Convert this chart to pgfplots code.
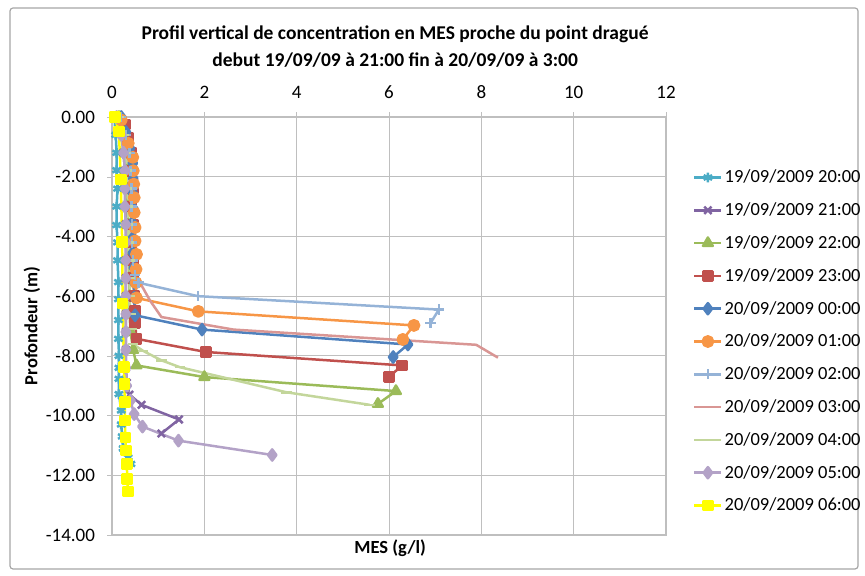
\documentclass[border=0pt]{standalone}
\usepackage{fontspec}
\setmainfont{Carlito}
\usepackage{pgfplots}
\pgfplotsset{compat=1.18}

\definecolor{sA}{HTML}{4BACC6}
\definecolor{sB}{HTML}{8064A2}
\definecolor{sC}{HTML}{9BBB59}
\definecolor{sD}{HTML}{C0504D}
\definecolor{sE}{HTML}{4F81BD}
\definecolor{sF}{HTML}{F79646}
\definecolor{sG}{HTML}{95B3D7}
\definecolor{sH}{HTML}{D99694}
\definecolor{sI}{HTML}{C3D69B}
\definecolor{sJ}{HTML}{B3A2C7}
\definecolor{sK}{HTML}{FFFF00}
\definecolor{gridc}{HTML}{BFBFBF}

\begin{document}
\begin{tikzpicture}
\begin{axis}[
    scale only axis,
    width=277pt, height=209pt,
    xmin=0, xmax=12, ymin=-14, ymax=0,
    xtick={0,2,...,12}, ytick={-14,-12,...,0},
    xticklabel pos=upper, xtick pos=upper, ytick pos=left,
    tick align=outside, major tick length=2.5pt,
    tick style={gridc},
    grid=major, major grid style={gridc, line width=0.5pt},
    axis line style={gridc, line width=0.6pt},
    ticklabel style={font=\fontsize{9.5}{11}\selectfont},
    yticklabel style={/pgf/number format/.cd, fixed, fixed zerofill, precision=2, assume math mode=true, /tikz/xshift=-2.5pt},
    xticklabel style={/pgf/number format/assume math mode=true, yshift=3pt},
    clip=false,
    every axis plot/.append style={line width=1.25pt, line join=round},
    legend cell align=left,
    legend style={draw=none, fill=none, at={(rel axis cs:1.049,0.878)}, anchor=north west,
        inner sep=0pt, outer sep=0pt, row sep=6.9pt,
        font=\fontsize{9.25}{11}\selectfont,
        nodes={inner sep=1pt, text height=6.5pt, text depth=1pt}},
    legend image code/.code={\draw[mark repeat=2, mark phase=2] plot coordinates {(0pt,0pt) (6.75pt,0pt) (13.5pt,0pt)};},
]

% 19/09/2009 20:00
\addplot[sA, mark=asterisk, mark size=2.4pt] table {
0.05 0
0.08 -0.6
0.10 -1.2
0.10 -1.78
0.12 -2.4
0.10 -3.0
0.10 -3.62
0.12 -4.2
0.12 -4.8
0.14 -5.53
0.14 -6.1
0.14 -6.8
0.14 -7.43
0.15 -8.0
0.15 -8.4
0.15 -8.77
0.15 -9.28
0.20 -9.83
0.20 -10.3
0.22 -10.7
0.24 -11.1
0.35 -11.4
0.41 -11.62
};
\addlegendentry{19/09/2009 20:00}

% 19/09/2009 21:00
\addplot[sB, mark=x, mark size=2.6pt] table {
0.10 0
0.20 -0.5
0.25 -1.2
0.28 -1.8
0.30 -2.4
0.30 -3.0
0.30 -3.6
0.30 -4.2
0.30 -4.8
0.30 -5.4
0.30 -6.0
0.30 -6.6
0.30 -7.2
0.30 -7.8
0.30 -8.4
0.32 -8.9
0.38 -9.3
0.64 -9.64
1.45 -10.13
1.07 -10.6
};
\addlegendentry{19/09/2009 21:00}

% 19/09/2009 22:00
\addplot[sC, mark=triangle*, mark size=2.8pt] table {
0.15 0
0.25 -0.6
0.30 -1.2
0.32 -1.8
0.33 -2.4
0.34 -3.0
0.35 -3.6
0.36 -4.2
0.36 -4.8
0.37 -5.4
0.38 -6.0
0.38 -6.6
0.40 -7.2
0.46 -7.8
0.53 -8.32
2.00 -8.71
6.15 -9.18
5.76 -9.61
};
\addlegendentry{19/09/2009 22:00}

% 19/09/2009 23:00
\addplot[sD, mark=square*, mark size=2.3pt] table {
0.28 -0.25
0.35 -0.7
0.42 -1.2
0.42 -1.8
0.46 -2.4
0.42 -3.0
0.45 -3.6
0.42 -4.2
0.45 -4.8
0.46 -5.4
0.48 -6.0
0.50 -6.48
0.50 -6.9
0.53 -7.43
2.03 -7.87
6.28 -8.32
6.00 -8.71
};
\addlegendentry{19/09/2009 23:00}

% 20/09/2009 00:00
\addplot[sE, mark=diamond*, mark size=2.8pt] table {
0.20 0
0.30 -0.5
0.39 -1.05
0.45 -1.55
0.46 -2.06
0.45 -2.55
0.46 -3.06
0.44 -3.55
0.45 -4.05
0.45 -4.55
0.47 -5.05
0.48 -5.55
0.48 -6.05
0.50 -6.64
1.95 -7.12
6.41 -7.62
6.09 -8.04
};
\addlegendentry{20/09/2009 00:00}

% 20/09/2009 01:00
\addplot[sF, mark=*, mark size=2.6pt] table {
0.20 -0.1
0.35 -0.88
0.45 -1.35
0.46 -1.8
0.47 -2.25
0.48 -2.7
0.48 -3.2
0.50 -3.7
0.50 -4.15
0.53 -4.6
0.52 -5.1
0.52 -5.55
0.53 -6.06
1.87 -6.51
6.54 -6.98
6.30 -7.45
};
\addlegendentry{20/09/2009 01:00}

% 20/09/2009 02:00
\addplot[sG, mark=+, mark size=2.6pt] table {
0.20 0
0.30 -0.6
0.38 -1.2
0.40 -1.8
0.42 -2.4
0.42 -3.0
0.43 -3.6
0.43 -4.2
0.45 -4.8
0.50 -5.3
0.57 -5.55
1.86 -6.0
7.08 -6.45
6.90 -6.9
};
\addlegendentry{20/09/2009 02:00}

% 20/09/2009 03:00
\addplot[sH, mark=none] table {
0.20 0
0.30 -0.6
0.35 -1.2
0.40 -1.8
0.40 -2.4
0.42 -3.0
0.42 -3.6
0.43 -4.2
0.45 -4.8
0.50 -5.2
0.64 -5.64
0.82 -6.14
1.07 -6.7
2.63 -7.12
7.89 -7.63
8.36 -8.06
};
\addlegendentry{20/09/2009 03:00}

% 20/09/2009 04:00
\addplot[sI, mark=-, mark size=2.6pt] table {
0.15 0
0.25 -0.6
0.30 -1.2
0.32 -1.8
0.33 -2.4
0.35 -3.0
0.35 -3.6
0.36 -4.2
0.38 -4.8
0.38 -5.4
0.38 -6.0
0.40 -6.6
0.42 -7.1
0.45 -7.6
0.67 -7.83
1.07 -8.15
1.47 -8.38
3.78 -9.22
5.58 -9.64
};
\addlegendentry{20/09/2009 04:00}

% 20/09/2009 05:00
\addplot[sJ, mark=diamond*, mark size=2.8pt] table {
0.10 0
0.20 -0.6
0.25 -1.2
0.28 -1.8
0.28 -2.4
0.28 -3.0
0.30 -3.6
0.30 -4.2
0.30 -4.8
0.30 -5.4
0.30 -6.0
0.30 -6.6
0.30 -7.2
0.30 -7.8
0.30 -8.4
0.32 -9.0
0.40 -9.5
0.48 -9.95
0.66 -10.37
1.44 -10.84
3.47 -11.32
};
\addlegendentry{20/09/2009 05:00}

% 20/09/2009 06:00
\addplot[sK, mark=square*, mark size=2.3pt] table {
0.06 0
0.15 -0.49
0.19 -2.09
0.22 -4.18
0.23 -6.25
0.26 -8.38
0.27 -8.94
0.28 -9.55
0.28 -10.17
0.29 -10.73
0.30 -11.17
0.32 -11.62
0.33 -12.12
0.35 -12.54
};
\addlegendentry{20/09/2009 06:00}

% titles and labels
\node[anchor=base, font=\fontsize{9.75}{12}\bfseries] at (rel axis cs:0.511,1) [yshift=38.75pt] {Profil vertical de concentration en MES proche du point dragué};
\node[anchor=base, font=\fontsize{9.75}{12}\bfseries] at (rel axis cs:0.511,1) [yshift=25.25pt] {debut 19/09/09 à 21:00 fin à 20/09/09 à 3:00};
\node[anchor=center, rotate=90, font=\fontsize{9.25}{11}\bfseries] at (rel axis cs:-0.1444,0.5) {Profondeur (m)};
\node[anchor=center, font=\fontsize{9.25}{11}\bfseries] at (rel axis cs:0.502,0) [yshift=-6.5pt] {MES (g/l)};

% chart frame
\path (rel axis cs:-0.2022,-0.0957) rectangle (rel axis cs:1.3592,1.2799);
\draw[gray!70, line width=0.6pt, rounded corners=1.5pt] (rel axis cs:-0.1841,-0.0813) rectangle (rel axis cs:1.3466,1.2608);
\end{axis}
\end{tikzpicture}
\end{document}
